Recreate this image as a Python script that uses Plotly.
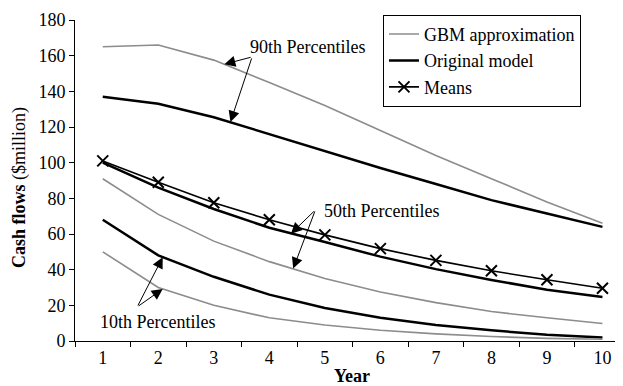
import plotly.graph_objects as go

years = [1, 2, 3, 4, 5, 6, 7, 8, 9, 10]
year_labels = ["1", "2", "3", "4", "5", "6", "7", "8", "9", "10"]

gbm_p90 = [165, 166, 157.5, 145, 132, 118, 104, 91, 78, 66]
orig_p90 = [137, 133, 125.5, 116, 106.5, 97, 88, 79, 71.5, 64]
means = [101, 89, 77.5, 68, 59.5, 51.8, 45.2, 39.4, 34.3, 29.6]
orig_p50 = [100, 86, 74, 63.5, 55.5, 47.3, 40.3, 34.2, 28.8, 24.7]
gbm_p50 = [91, 71, 56, 44.5, 35, 27.5, 21.5, 16.5, 13, 9.8]
orig_p10 = [68, 48, 36, 26, 18.5, 13, 9, 6, 3.5, 2]
gbm_p10 = [50, 30, 20, 13, 9, 6, 4, 2.5, 1.5, 1]

GRAY = "#8c8c8c"
BLACK = "#000000"
FONT = "Liberation Serif, Times New Roman, DejaVu Serif, serif"

fig = go.Figure()

def add(y, color, width, name=None, show=False, marker=False):
    fig.add_trace(go.Scatter(
        x=years, y=y, mode="lines+markers" if marker else "lines",
        line=dict(color=color, width=width),
        marker=dict(symbol="x-thin", size=11, line=dict(color=color, width=2)) if marker else None,
        name=name, showlegend=show, hoverinfo="skip"))

add(gbm_p90, GRAY, 1.6, "GBM approximation", True)
add(orig_p90, BLACK, 2.5, "Original model", True)
add(means, BLACK, 1.6, "Means", True, marker=True)
add(orig_p50, BLACK, 2.5)
add(gbm_p50, GRAY, 1.6)
add(orig_p10, BLACK, 2.5)
add(gbm_p10, GRAY, 1.6)

annotations = []

def label(text, x, y):
    annotations.append(dict(x=x, y=y, xref="x", yref="y", text=text, showarrow=False,
                            xanchor="left", yanchor="middle",
                            font=dict(family=FONT, size=18, color="black")))

def arrow(tx, ty, hx, hy):
    annotations.append(dict(x=hx, y=hy, ax=tx, ay=ty, xref="x", yref="y", axref="x", ayref="y",
                            text="", showarrow=True, arrowhead=2, arrowsize=2.2, arrowwidth=1,
                            arrowcolor="black", standoff=0, startstandoff=0))

label("90th Percentiles", 3.62, 164.9)
arrow(3.69, 159.3, 3.19, 155.2)
arrow(3.69, 159.3, 3.30, 122.8)

label("50th Percentiles", 4.94, 72.9)
arrow(4.83, 73.5, 4.39, 60.2)
arrow(4.83, 73.5, 4.43, 40.6)

label("10th Percentiles", 0.91, 10.7)
arrow(1.62, 19.1, 2.08, 47.0)
arrow(1.62, 19.1, 2.08, 29.2)

annotations.append(dict(x=-0.1, y=0.477, xref="paper", yref="paper",
                        text="<b>Cash flows</b> ($million)", textangle=-90, showarrow=False,
                        xanchor="center", yanchor="middle",
                        font=dict(family=FONT, size=18, color="black")))
annotations.append(dict(x=0.505, y=-0.108, xref="paper", yref="paper",
                        text="<b>Year</b>", showarrow=False,
                        xanchor="center", yanchor="middle",
                        font=dict(family=FONT, size=18, color="black")))

# the page body adds an 8px offset, so the figure is 8px smaller and shifted
fig.update_layout(
    width=615, height=378,
    margin=dict(l=67, r=0, t=12, b=45),
    paper_bgcolor="white", plot_bgcolor="white",
    font=dict(family=FONT, size=18, color="black"),
    showlegend=True,
    legend=dict(x=0.562, y=1.016, xanchor="left", yanchor="top",
                bordercolor="black", borderwidth=1, bgcolor="white",
                font=dict(family=FONT, size=18, color="black"),
                itemwidth=30, tracegroupgap=0, entrywidth=170),
    annotations=annotations,
    xaxis=dict(range=[0.5, 10.37], tickmode="array", tickvals=years, ticktext=year_labels,
               ticks="", showgrid=False, zeroline=False, showline=True, linecolor="black",
               linewidth=1, tickfont=dict(family=FONT, size=18)),
    yaxis=dict(range=[0, 180], tickmode="array", tickvals=[0, 20, 40, 60, 80, 100, 120, 140, 160, 180],
               ticks="outside", ticklen=5, tickcolor="black", showgrid=False, zeroline=False,
               showline=True, linecolor="black", linewidth=1, tickfont=dict(family=FONT, size=18)),
)

fig.update_xaxes(minor=dict(tickmode="array", tickvals=[0.5, 1.5, 2.5, 3.5, 4.5, 5.5, 6.5, 7.5, 8.5, 9.5],
                            ticks="outside", ticklen=5, tickcolor="black"))

fig.write_html("out.html")
